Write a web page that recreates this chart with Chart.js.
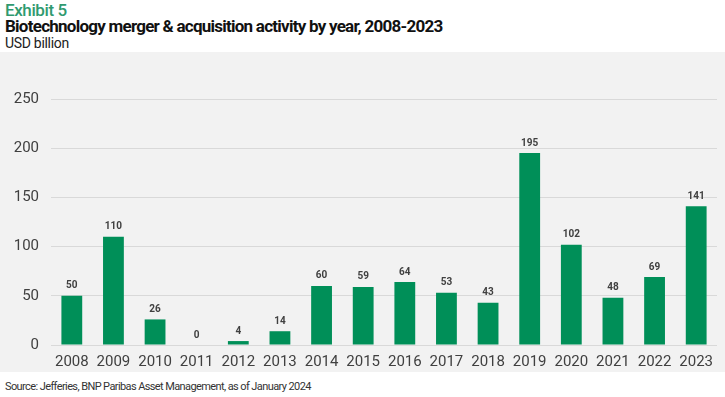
<!DOCTYPE html>
<html>
<head>
<meta charset="utf-8">
<script src="https://cdn.jsdelivr.net/npm/chart.js@4/dist/chart.umd.min.js"></script>
<style>
  body { margin: 0; background: #fff; font-family: Roboto, sans-serif; width: 725px; height: 397px; overflow: hidden; position: relative; }
  .exhibit { position: absolute; left: 5px; top: 0px; font-size: 17px; font-weight: 500; color: #2f9a6f; letter-spacing: -0.4px; }
  .title { position: absolute; left: 5px; top: 16px; font-size: 17px; font-weight: 700; color: #111; letter-spacing: -0.75px; }
  .unit { position: absolute; left: 5px; top: 35px; font-size: 14px; color: #222; letter-spacing: -0.3px; }
  .panel { position: absolute; left: 0; top: 52px; width: 725px; height: 320px; background: #f2f2f2; }
  .source { position: absolute; left: 5px; top: 380px; font-size: 11px; color: #333; letter-spacing: -0.6px; }
</style>
</head>
<body>
<div class="exhibit">Exhibit 5</div>
<div class="title">Biotechnology merger &amp; acquisition activity by year, 2008-2023</div>
<div class="unit">USD billion</div>
<div class="panel"><canvas id="maChart" width="725" height="320"></canvas></div>
<div class="source">Source: Jefferies, BNP Paribas Asset Management, as of January 2024</div>
<script>
const years = ['2008', '2009', '2010', '2011', '2012', '2013', '2014', '2015', '2016', '2017', '2018', '2019', '2020', '2021', '2022', '2023'];
const dealValues = [50, 110, 26, 0, 4, 14, 60, 59, 64, 53, 43, 195, 102, 48, 69, 141];
const yTicks = [0, 50, 100, 150, 200, 250];

// value labels above each bar
const barLabels = {
  id: 'barLabels',
  afterDatasetsDraw(chart) {
    const ctx = chart.ctx;
    const meta = chart.getDatasetMeta(0);
    ctx.save();
    ctx.font = 'bold 10px Roboto';
    ctx.fillStyle = '#404040';
    ctx.textAlign = 'center';
    ctx.textBaseline = 'bottom';
    meta.data.forEach((bar, i) => {
      ctx.fillText(dealValues[i], bar.x, bar.y - 5);
    });
    ctx.restore();
  }
};

const ctx = document.getElementById('maChart').getContext('2d');
const maChart = new Chart(ctx, {
  type: 'bar',
  data: {
    labels: years,
    datasets: [{
      data: dealValues,
      backgroundColor: '#008f58',
      barPercentage: 0.5,
      categoryPercentage: 1
    }]
  },
  options: {
    responsive: false,
    animation: false,
    layout: { padding: { top: 47, right: 8, left: 0, bottom: 3 } },
    plugins: { legend: { display: false }, tooltip: { enabled: false } },
    scales: {
      x: {
        afterFit: (scale) => { scale.height = 24; },
        grid: { display: false },
        border: { display: false },
        ticks: { color: '#404040', font: { family: 'Roboto', size: 15 }, padding: 0, maxRotation: 0 }
      },
      y: {
        min: 0,
        max: 250,
        afterBuildTicks: (scale) => { scale.ticks = yTicks.map(v => ({ value: v })); },
        afterFit: (scale) => { scale.width = 51; },
        grid: { color: '#d9d9d9', drawTicks: false },
        border: { display: false },
        ticks: { color: '#404040', font: { family: 'Roboto', size: 15 }, padding: 12 }
      }
    }
  },
  plugins: [barLabels]
});
</script>
</body>
</html>
